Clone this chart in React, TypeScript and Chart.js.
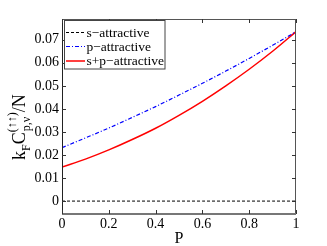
import React, { useEffect, useRef } from "react";
import { Chart, registerables } from "chart.js";

Chart.register(...registerables);

const pValues = [0, 0.1, 0.2, 0.3, 0.4, 0.5, 0.6, 0.7, 0.8, 0.9, 1.0];
const sAttractive = [0, 0, 0, 0, 0, 0, 0, 0, 0, 0, 0];
const pAttractive = [0.0232, 0.0274, 0.0317, 0.0363, 0.041, 0.046, 0.0511, 0.0564, 0.0619, 0.0676, 0.0735];
const spAttractive = [0.0148, 0.0182, 0.0222, 0.0267, 0.0316, 0.0372, 0.0433, 0.05, 0.0572, 0.065, 0.0735];
const xTicks = [0, 0.2, 0.4, 0.6, 0.8, 1];
const yTicks = [0, 0.01, 0.02, 0.03, 0.04, 0.05, 0.06, 0.07];
const seriesNames = ["s\u2212attractive", "p\u2212attractive", "s+p\u2212attractive"];

const SERIF = "'Liberation Serif', 'DejaVu Serif', serif";

const fmt = (v: number) => {
  const s = Number(v.toFixed(4)).toString();
  return s;
};

const decorPlugin = {
  id: "decor",
  afterDraw(chart: any) {
    const ctx = chart.ctx as CanvasRenderingContext2D;
    const a = chart.chartArea;
    const xs = chart.scales.x;
    const ys = chart.scales.y;
    ctx.save();
    // box
    ctx.strokeStyle = "#222";
    ctx.lineWidth = 1;
    ctx.beginPath();
    ctx.moveTo(Math.round(a.left) + 0.5, a.top);
    ctx.lineTo(Math.round(a.left) + 0.5, a.bottom);
    ctx.stroke();
    ctx.strokeStyle = "#555";
    ctx.beginPath();
    ctx.moveTo(a.left, Math.round(a.top) + 0.5);
    ctx.lineTo(a.right, Math.round(a.top) + 0.5);
    ctx.moveTo(Math.round(a.right) - 0.5, a.top);
    ctx.lineTo(Math.round(a.right) - 0.5, a.bottom);
    ctx.stroke();
    ctx.strokeStyle = "#777";
    ctx.lineWidth = 2;
    ctx.beginPath();
    ctx.moveTo(a.left, Math.round(a.bottom));
    ctx.lineTo(a.right, Math.round(a.bottom));
    ctx.stroke();
    // ticks inside
    ctx.strokeStyle = "#333";
    ctx.lineWidth = 1;
    ctx.beginPath();
    const tl = 4;
    for (const v of xTicks) {
      const x = Math.round(xs.getPixelForValue(v)) + 0.5;
      ctx.moveTo(x, a.bottom);
      ctx.lineTo(x, a.bottom - tl);
      ctx.moveTo(x, a.top);
      ctx.lineTo(x, a.top + tl);
    }
    for (const v of yTicks) {
      const y = Math.round(ys.getPixelForValue(v)) + 0.5;
      ctx.moveTo(a.left, y);
      ctx.lineTo(a.left + tl, y);
      ctx.moveTo(a.right, y);
      ctx.lineTo(a.right - tl, y);
    }
    ctx.stroke();

    // legend
    const lx = 64.5, ly = 20.5, lw = 100.5, lh = 48.5;
    ctx.fillStyle = "#fff";
    ctx.fillRect(lx, ly, lw, lh);
    ctx.strokeStyle = "#444";
    ctx.lineWidth = 1;
    ctx.strokeRect(lx, ly, lw, lh);
    const rows = [32.5, 46.5, 61];
    const styles = [
      { c: "#000", d: [3, 2], w: 1 },
      { c: "#0000ff", d: [4, 2, 1, 2], w: 1 },
      { c: "#ff0000", d: [], w: 1.5 },
    ];
    ctx.font = `13.5px ${SERIF}`;
    ctx.textBaseline = "middle";
    ctx.textAlign = "left";
    rows.forEach((ry, i) => {
      ctx.beginPath();
      ctx.strokeStyle = styles[i].c;
      ctx.lineWidth = styles[i].w;
      ctx.setLineDash(styles[i].d);
      ctx.moveTo(66, ry);
      ctx.lineTo(85, ry);
      ctx.stroke();
      ctx.setLineDash([]);
      ctx.fillStyle = "#000";
      ctx.fillText(seriesNames[i], 86.5, ry + 0.5);
    });

    // x title
    ctx.font = `16px ${SERIF}`;
    ctx.textAlign = "center";
    ctx.textBaseline = "alphabetic";
    ctx.fillStyle = "#000";
    ctx.fillText("P", (a.left + a.right) / 2, 242.5);

    // y title (rotated)
    ctx.translate(25, 160);
    ctx.rotate(-Math.PI / 2);
    ctx.textAlign = "left";
    let x = 0;
    const main = `18px ${SERIF}`;
    const small = `12px ${SERIF}`;
    ctx.font = main;
    ctx.fillText("k", x, 0);
    x += ctx.measureText("k").width;
    ctx.font = small;
    ctx.fillText("F", x, 5);
    x += ctx.measureText("F").width;
    ctx.font = main;
    ctx.fillText("C", x, 0);
    x += ctx.measureText("C").width;
    ctx.font = small;
    ctx.fillText("(\u2191\u2191)", x, -9);
    const w1 = ctx.measureText("(\u2191\u2191)").width;
    ctx.fillText("p,\u03bd", x + 1, 5);
    const w2 = ctx.measureText("p,\u03bd").width + 1;
    x += Math.max(w1, w2);
    ctx.font = main;
    ctx.fillText("/N", x, 0);
    ctx.restore();
  },
};

export default function App() {
  const ref = useRef<HTMLCanvasElement | null>(null);
  useEffect(() => {
    if (!ref.current) return;
    const chart = new Chart(ref.current, {
      type: "line",
      data: {
        datasets: [
          {
            label: seriesNames[0],
            data: pValues.map((p, i) => ({ x: p, y: sAttractive[i] })),
            borderColor: "#000",
            borderWidth: 1,
            borderDash: [3, 2],
            pointRadius: 0,
            fill: false,
          },
          {
            label: seriesNames[1],
            data: pValues.map((p, i) => ({ x: p, y: pAttractive[i] })),
            borderColor: "#0000ff",
            borderWidth: 1.2,
            borderDash: [4, 2, 1, 2],
            pointRadius: 0,
            cubicInterpolationMode: "monotone",
            fill: false,
          },
          {
            label: seriesNames[2],
            data: pValues.map((p, i) => ({ x: p, y: spAttractive[i] })),
            borderColor: "#ff0000",
            borderWidth: 1.5,
            pointRadius: 0,
            cubicInterpolationMode: "monotone",
            fill: false,
          },
        ],
      },
      options: {
        responsive: false,
        animation: false,
        devicePixelRatio: 1,
        layout: { padding: { left: 0, top: 19, right: 31, bottom: 0 } },
        plugins: { legend: { display: false }, tooltip: { enabled: false } },
        scales: {
          x: {
            type: "linear",
            min: 0,
            max: 1,
            afterBuildTicks: (s: any) => {
              s.ticks = xTicks.map((v) => ({ value: v }));
            },
            afterFit: (s: any) => {
              s.height = 32;
            },
            grid: { display: false, drawTicks: false },
            border: { display: false },
            ticks: {
              padding: 2,
              color: "#000",
              font: { family: SERIF, size: 14 },
              maxRotation: 0,
              callback: (v: any) => fmt(Number(v)),
            },
          },
          y: {
            type: "linear",
            min: -0.0056,
            max: 0.079,
            afterBuildTicks: (s: any) => {
              s.ticks = yTicks.map((v) => ({ value: v }));
            },
            afterFit: (s: any) => {
              s.width = 62;
            },
            grid: { display: false, drawTicks: false },
            border: { display: false },
            ticks: {
              padding: 3,
              color: "#000",
              font: { family: SERIF, size: 14 },
              callback: (v: any) => fmt(Number(v)),
            },
          },
        },
      },
      plugins: [decorPlugin],
    } as any);
    return () => chart.destroy();
  }, []);
  return (
    <div style={{ position: "absolute", left: 0, top: 0, width: 327, height: 246, background: "#fff" }}>
      <canvas ref={ref} width={327} height={246} style={{ width: 327, height: 246, display: "block" }} />
    </div>
  );
}
